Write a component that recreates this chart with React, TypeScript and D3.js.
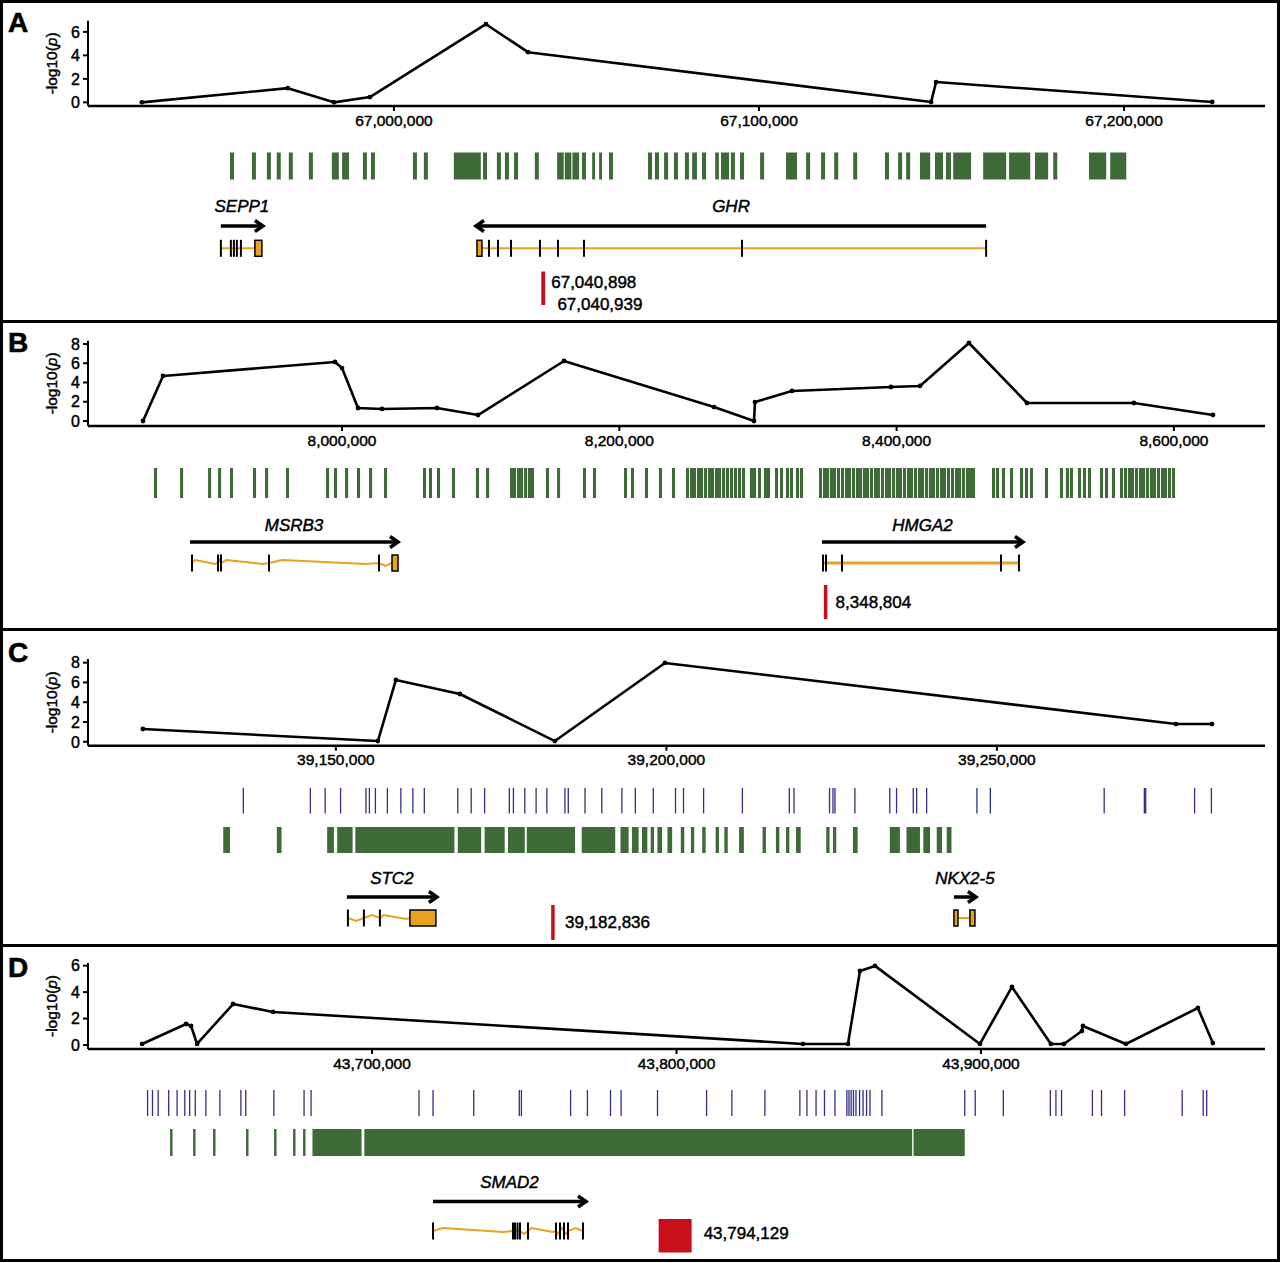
import React from 'react';
import * as d3 from 'd3';

const FONT = '"Liberation Sans", Arial, Helvetica, sans-serif';
const GREEN = '#3d6a36';
const BLUE = '#30308e';
const ORANGE = '#e8a21f';
const RED = '#c8101c';
const X0 = 88;
const X1 = 1265;
const TXT = { fontFamily: FONT, fill: '#000', stroke: '#000', strokeWidth: 0.45 } as any;

// ---------------- Panel A ----------------
const aXDomain = [66916200, 67238600];
const aYDomain = [-0.31, 6.95];
const aXTicks = [67000000, 67100000, 67200000];
const aYTicks = [0, 2, 4, 6];
const aSnpPos = [66930950, 66970960, 66983560, 66993420, 67025210, 67036720, 67147140, 67148510, 67224130];
const aSnpLogP = [0, 1.21, 0, 0.45, 6.65, 4.27, 0.03, 1.73, 0.03];
const aGreen = [
  [66955100, 66956200], [66961100, 66962200], [66965200, 66966300], [66967900, 66969000], [66971200, 66972300],
  [66976700, 66977800], [66983000, 66984900], [66985800, 66987700], [66991500, 66992600], [66993700, 66994800],
  [67005200, 67006300], [67008200, 67009300], [67016400, 67023800], [67024400, 67025500], [67028200, 67029300],
  [67030400, 67031500], [67032900, 67034000], [67038600, 67039700], [67044700, 67046500], [67046800, 67048600],
  [67048900, 67050700], [67051500, 67052600], [67054300, 67055100], [67056200, 67057000], [67058900, 67060000],
  [67069600, 67070700], [67071500, 67072600], [67074000, 67075100], [67076700, 67077800], [67079700, 67080800],
  [67081700, 67083000], [67084400, 67085500], [67088000, 67089000], [67089600, 67091800], [67092300, 67093400],
  [67094800, 67095900], [67100300, 67101400], [67107400, 67110400], [67112900, 67114000], [67117000, 67118100],
  [67120600, 67121700], [67125800, 67126900], [67134500, 67135600], [67138100, 67139200], [67140300, 67141400],
  [67144100, 67146900], [67148200, 67150400], [67151200, 67152600], [67153200, 67158100], [67161400, 67167700],
  [67168500, 67174300], [67175600, 67179200], [67180600, 67181700], [67190400, 67195100], [67196200, 67200600],
];
const aGenes = [
  { name: 'SEPP1', strand: 1, span: [66952600, 66964110], exons: [66952600, 66955340, 66956160, 66956980, 66958080], boxes: [[66961910, 66963830]], wavy: false, thick: false },
  { name: 'GHR', strand: -1, span: [67022470, 67162210], exons: [67026030, 67028500, 67032060, 67040000, 67044940, 67052060, 67095350, 67162210], boxes: [[67022740, 67024110]], wavy: false, thick: false },
];
const aMarkers = [67040898, 67040939];

// ---------------- Panel B ----------------
const bXDomain = [7816800, 8665700];
const bYDomain = [-0.52, 8.34];
const bXTicks = [8000000, 8200000, 8400000, 8600000];
const bYTicks = [0, 2, 4, 6, 8];
const bSnpPos = [7856480, 7870900, 7994950, 8000000, 8011540, 8028850, 8068510, 8098080, 8160110, 8268290, 8297130, 8297860, 8324540, 8395940, 8416850, 8452190, 8494020, 8571190, 8628170];
const bSnpLogP = [0, 4.68, 6.13, 5.5, 1.35, 1.25, 1.35, 0.62, 6.23, 1.45, 0, 1.97, 3.12, 3.53, 3.64, 8.1, 1.87, 1.87, 0.62];
const bGreenKb = [
  7864.4, 7883.2, 7903.4, 7910.6, 7919.2, 7935.8, 7944.5, 7959.6, 7988.5, 7994.2, 8002.2, 8010.8, 8019.5, 8030.3,
  8058.4, 8062.7, 8068.5, 8079.3, 8096.6, 8103.9, 8121.2, 8123.3, 8126.2, 8128.4, 8131.3, 8134.1, 8136.3, 8147.1,
  8155.1, 8173.8, 8181.0, 8203.4, 8208.4, 8218.5, 8228.6, 8238.0, 8248.1, 8251.0, 8253.1, 8256.0, 8258.2, 8261.1,
  8264.0, 8266.1, 8269.0, 8271.2, 8274.1, 8276.9, 8279.8, 8282.7, 8285.6, 8288.5, 8294.2, 8296.4, 8300.0, 8304.3,
  8306.5, 8312.3, 8315.9, 8320.2, 8323.1, 8327.4, 8330.3, 8344.0, 8346.9, 8349.1, 8351.9, 8354.1, 8357.0, 8359.9,
  8362.8, 8364.9, 8367.8, 8370.7, 8372.9, 8375.7, 8377.9, 8380.8, 8383.7, 8385.8, 8388.7, 8391.6, 8393.8, 8396.7,
  8399.5, 8401.7, 8404.6, 8407.5, 8409.6, 8412.5, 8415.4, 8417.6, 8420.5, 8423.3, 8425.5, 8428.4, 8431.3, 8433.4,
  8436.3, 8439.2, 8442.1, 8444.3, 8447.1, 8450.0, 8452.2, 8454.4, 8468.8, 8471.7, 8476.0, 8481.8, 8489.0, 8492.6,
  8496.2, 8507.0, 8517.8, 8522.1, 8525.0, 8530.8, 8534.4, 8538.0, 8546.7, 8550.3, 8555.3, 8561.1, 8564.0, 8566.9,
  8569.0, 8571.9, 8574.8, 8577.0, 8579.8, 8582.7, 8584.9, 8587.8, 8590.7, 8592.8, 8595.7, 8598.6,
];
const bFeatureKb = 2.2;
const bGenes = [
  { name: 'MSRB3', strand: 1, span: [7890380, 8040390], exons: [7891820, 7910570, 7912740, 7947350, 8026680], boxes: [[8036060, 8040390]], wavy: true, thick: false },
  { name: 'HMGA2', strand: 1, span: [8346180, 8491140], exons: [8346900, 8349060, 8360600, 8475270, 8488250], boxes: [], wavy: false, thick: true },
];
const bMarkers = [8348804];

// ---------------- Panel C ----------------
const cXDomain = [39112500, 39290560];
const cYDomain = [-0.4, 8.37];
const cXTicks = [39150000, 39200000, 39250000];
const cYTicks = [0, 2, 4, 6, 8];
const cSnpPos = [39120800, 39156350, 39159080, 39168760, 39183130, 39199780, 39277090, 39282540];
const cSnpLogP = [1.29, 0.07, 6.25, 4.83, 0.07, 7.97, 1.79, 1.79];
const cBlue = [
  39136000, 39146140, 39148380, 39150710, 39154550, 39155070, 39155980, 39157790, 39159830, 39161650, 39163380,
  39168440, 39170470, 39172500, 39176240, 39176860, 39178580, 39180290, 39181920, 39184650, 39185160, 39187690,
  39190230, 39193270, 39195300, 39198020, 39201380, 39202590, 39205630, 39211500, 39218600, 39219310, 39224680,
  39225200, 39225500, 39228520, 39233800, 39234820, 39237350, 39237860, 39239370, 39246980, 39249010, 39266230,
  39272310, 39272510, 39279910, 39282450,
];
const cGreen = [
  [39132960, 39133980], [39141070, 39141780], [39148680, 39149700], [39150200, 39152530], [39152940, 39167930],
  [39168440, 39171980], [39172500, 39175540], [39176040, 39178580], [39178880, 39186180], [39187190, 39192260],
  [39193060, 39194290], [39194790, 39195800], [39196300, 39197120], [39197630, 39198130], [39198640, 39199350],
  [39200160, 39200870], [39202180, 39202700], [39203710, 39204210], [39205420, 39205940], [39207450, 39207960],
  [39208770, 39209280], [39211000, 39211720], [39214550, 39215060], [39216570, 39217090], [39218100, 39218600],
  [39219610, 39220320], [39224180, 39224680], [39225200, 39225700], [39228220, 39228930], [39233800, 39235330],
  [39236330, 39238360], [39238870, 39239890], [39240900, 39241700], [39242410, 39243130],
];
const cGenes = [
  { name: 'STC2', strand: 1, span: [39151660, 39165280], exons: [39151820, 39154240, 39156660], boxes: [[39161200, 39165130]], wavy: true, thick: false },
  { name: 'NKX2-5', strand: 1, span: [39243500, 39246830], exons: [], boxes: [[39243500, 39244110], [39245920, 39246680]], wavy: false, thick: false },
];
const cMarkers = [39182836];

// ---------------- Panel D ----------------
const dXDomain = [43606700, 43993300];
const dYDomain = [-0.3, 6.2];
const dXTicks = [43700000, 43800000, 43900000];
const dYTicks = [0, 2, 4, 6];
const dSnpPos = [43624470, 43638920, 43640560, 43642530, 43654350, 43667490, 43841540, 43856320, 43860260, 43865190, 43899670, 43910180, 43922980, 43927250, 43933160, 43933490, 43947610, 43971260, 43976180];
const dSnpLogP = [0.08, 1.59, 1.44, 0.08, 3.1, 2.5, 0.08, 0.08, 5.6, 5.98, 0.08, 4.39, 0.08, 0.08, 1.06, 1.44, 0.08, 2.8, 0.15];
const dBlue = [
  43626270, 43627880, 43629750, 43633200, 43635960, 43638490, 43640100, 43641940, 43645420, 43650020, 43656910,
  43658520, 43667750, 43677670, 43679970, 43715430, 43720030, 43733400, 43748370, 43749060, 43765220, 43770740,
  43778320, 43781800, 43793760, 43809880, 43818190, 43829030, 43840520, 43842850, 43845840, 43848600, 43852050,
  43855960, 43856650, 43857370, 43858120, 43858950, 43860130, 43861280, 43862430, 43863540, 43867480, 43894680,
  43898120, 43907350, 43922790, 43924630, 43926470, 43936610, 43939600, 43947190, 43966100, 43973000, 43974150,
];
const dGreen = [
  [43633660, 43634460], [43641220, 43642020], [43647780, 43648580], [43658620, 43659420], [43667820, 43668620],
  [43674060, 43674860], [43677340, 43678140], [43680430, 43696550], [43697470, 43877400], [43877860, 43894680],
];
const dGenes = [
  { name: 'SMAD2', strand: 1, span: [43720030, 43770280], exons: [43720030, 43746300, 43746960, 43747780, 43748600, 43751230, 43760430, 43761740, 43763050, 43764370, 43769290], boxes: [], wavy: true, thick: false },
];
const dMarkers = [43794129];

const fmt = d3.format(',');

function GeneView({ g, x, labelY, arrowY, structY }: any) {
  const a = x(g.span[0]);
  const b = x(g.span[1]);
  const tip = g.strand === 1 ? b : a;
  const tail = g.strand === 1 ? a : b;
  const dir = g.strand;
  const stops: number[] = [...g.exons, ...g.boxes.map((bx: number[]) => bx[0]), ...g.boxes.map((bx: number[]) => bx[1])]
    .map((v: number) => x(v))
    .sort((p: number, q: number) => p - q);
  const lx0 = stops[0];
  const lx1 = stops[stops.length - 1];
  let pts: [number, number][] = [];
  if (g.wavy) {
    const uniq = stops.filter((s, i) => i === 0 || s - stops[i - 1] > 0.5);
    uniq.forEach((s, i) => {
      pts.push([s, structY]);
      if (i < uniq.length - 1) {
        const n = uniq[i + 1];
        const gap = n - s;
        if (gap > 25) {
          pts.push([s + gap * 0.12, structY - 3]);
          pts.push([s + gap * 0.5, structY - 1]);
          pts.push([s + gap * 0.88, structY + 1]);
        } else if (gap > 3) {
          pts.push([(s + n) / 2, structY + (i % 2 ? -3 : 3)]);
        }
      }
    });
  } else {
    pts = [[lx0, structY], [lx1, structY]];
  }
  const line = d3.line();
  return (
    <g>
      <text x={(a + b) / 2} y={labelY} textAnchor="middle" fontStyle="italic" fontSize={17} {...TXT}>{g.name}</text>
      <line x1={tail} x2={tip - dir * 1.5} y1={arrowY} y2={arrowY} stroke="#000" strokeWidth={3.5} />
      <path d={`M${tip - dir * 8},${arrowY - 5.5}L${tip},${arrowY}L${tip - dir * 8},${arrowY + 5.5}`} fill="none" stroke="#000" strokeWidth={3.5} strokeLinejoin="miter" />
      <path d={line(pts) || ''} fill="none" stroke={ORANGE} strokeWidth={g.thick ? 3 : 2} />
      {g.exons.map((e: number, i: number) => (
        <line key={i} x1={x(e)} x2={x(e)} y1={structY - 8.5} y2={structY + 8.5} stroke="#000" strokeWidth={2} />
      ))}
      {g.boxes.map((bx: number[], i: number) => (
        <rect key={'b' + i} x={x(bx[0])} y={structY - 8} width={Math.max(x(bx[1]) - x(bx[0]), 3)} height={16} fill={ORANGE} stroke="#000" strokeWidth={1.5} />
      ))}
    </g>
  );
}

function Panel(p: any) {
  const x = d3.scaleLinear().domain(p.xDomain).range([X0, X1]);
  const y = d3.scaleLinear().domain(p.yDomain).range([p.axisY, p.axisTop]);
  const pts: [number, number][] = p.snpPos.map((v: number, i: number) => [x(v), y(p.snpLogP[i])]);
  const line = d3.line();
  return (
    <g>
      <rect x={1.5} y={p.top} width={1277} height={p.bottom - p.top} fill="none" stroke="#000" strokeWidth={3} />
      <text x={8} y={p.letterY} fontSize={28} fontWeight="bold" fontFamily={FONT} stroke="#000" strokeWidth={0.6}>{p.letter}</text>
      {/* y axis */}
      <line x1={X0} x2={X0} y1={p.axisTop} y2={p.axisY} stroke="#000" strokeWidth={2} />
      {p.yTicks.map((t: number) => (
        <g key={t}>
          <line x1={X0 - 5} x2={X0} y1={y(t)} y2={y(t)} stroke="#000" strokeWidth={2} />
          <text x={X0 - 8} y={y(t)} dy="0.36em" textAnchor="end" fontSize={16} {...TXT}>{t}</text>
        </g>
      ))}
      <text transform={`translate(57,${(p.axisTop + p.axisY) / 2}) rotate(-90)`} textAnchor="middle" fontSize={15.5} {...TXT}>
        -log10(<tspan fontStyle="italic">p</tspan>)
      </text>
      {/* x axis */}
      <line x1={X0} x2={X1} y1={p.axisY} y2={p.axisY} stroke="#000" strokeWidth={2.5} />
      {p.xTicks.map((t: number) => (
        <g key={t}>
          <line x1={x(t)} x2={x(t)} y1={p.axisY} y2={p.axisY + 5} stroke="#000" strokeWidth={2} />
          <text x={x(t)} y={p.axisY + 19.5} textAnchor="middle" fontSize={15.5} {...TXT}>{fmt(t)}</text>
        </g>
      ))}
      <path d={line(pts) || ''} fill="none" stroke="#000" strokeWidth={2.6} strokeLinejoin="round" />
      {pts.map((q, i) => <circle key={i} cx={q[0]} cy={q[1]} r={2.4} fill="#000" />)}
      {/* blue track */}
      {p.blue && p.blue.map((v: number, i: number) => (
        <line key={'bl' + i} x1={x(v)} x2={x(v)} y1={p.blueY[0]} y2={p.blueY[1]} stroke={BLUE} strokeWidth={1.3} />
      ))}
      {/* green track */}
      {p.green.map((iv: number[], i: number) => (
        <rect key={'g' + i} x={x(iv[0])} y={p.greenY[0]} width={Math.max(x(iv[1]) - x(iv[0]), 1.5)} height={p.greenY[1] - p.greenY[0]} fill={GREEN} />
      ))}
      {p.genes.map((g: any) => (
        <GeneView key={g.name} g={g} x={x} labelY={p.labelY} arrowY={p.arrowY} structY={p.structY} />
      ))}
      {/* marker */}
      {p.markers.map((m: number, i: number) => (
        <g key={'m' + i}>
          <rect x={x(m) - (p.markerW > 10 ? 0 : p.markerW / 2)} y={p.markerY[0]} width={p.markerW} height={p.markerY[1] - p.markerY[0]} fill={RED} />
          <text x={x(m) + p.labelDx[i]} y={p.labelYs[i]} fontSize={17} {...TXT}>{fmt(m)}</text>
        </g>
      ))}
    </g>
  );
}

export default function App() {
  const bGreen = bGreenKb.map((k) => [k * 1000, (k + bFeatureKb) * 1000]);
  return (
    <div style={{ position: 'absolute', left: 0, top: 0 }}>
      <svg width={1280} height={1263} style={{ display: 'block', background: '#fff' }}>
        <rect x={0} y={0} width={1280} height={1263} fill="#fff" />
        <Panel letter="A" top={1.5} bottom={321.5} letterY={32} xDomain={aXDomain} yDomain={aYDomain} xTicks={aXTicks} yTicks={aYTicks}
          axisY={106} axisTop={20.7} snpPos={aSnpPos} snpLogP={aSnpLogP} green={aGreen} greenY={[152.5, 179.5]}
          genes={aGenes} labelY={212} arrowY={226} structY={248.3}
          markers={aMarkers} markerW={3.5} markerY={[271.7, 305]} labelDx={[8, 14]} labelYs={[287.5, 309.5]} />
        <Panel letter="B" top={321.5} bottom={629.5} letterY={352} xDomain={bXDomain} yDomain={bYDomain} xTicks={bXTicks} yTicks={bYTicks}
          axisY={426} axisTop={340.7} snpPos={bSnpPos} snpLogP={bSnpLogP} green={bGreen} greenY={[468, 498]}
          genes={bGenes} labelY={530.5} arrowY={542} structY={563}
          markers={bMarkers} markerW={3.5} markerY={[585, 619]} labelDx={[10]} labelYs={[607.5]} />
        <Panel letter="C" top={629.5} bottom={945.5} letterY={662} xDomain={cXDomain} yDomain={cYDomain} xTicks={cXTicks} yTicks={cYTicks}
          axisY={745.7} axisTop={659} snpPos={cSnpPos} snpLogP={cSnpLogP} blue={cBlue} blueY={[788, 813.5]} green={cGreen} greenY={[827, 853]}
          genes={cGenes} labelY={884} arrowY={897} structY={918}
          markers={cMarkers} markerW={3.5} markerY={[905, 940]} labelDx={[12]} labelYs={[928]} />
        <Panel letter="D" top={945.5} bottom={1260.5} letterY={977} xDomain={dXDomain} yDomain={dYDomain} xTicks={dXTicks} yTicks={dYTicks}
          axisY={1049} axisTop={963} snpPos={dSnpPos} snpLogP={dSnpLogP} blue={dBlue} blueY={[1090, 1116]} green={dGreen} greenY={[1129, 1156]}
          genes={dGenes} labelY={1188} arrowY={1201.5} structY={1231}
          markers={dMarkers} markerW={33} markerY={[1219, 1252.5]} labelDx={[45]} labelYs={[1239]} />
      </svg>
    </div>
  );
}
